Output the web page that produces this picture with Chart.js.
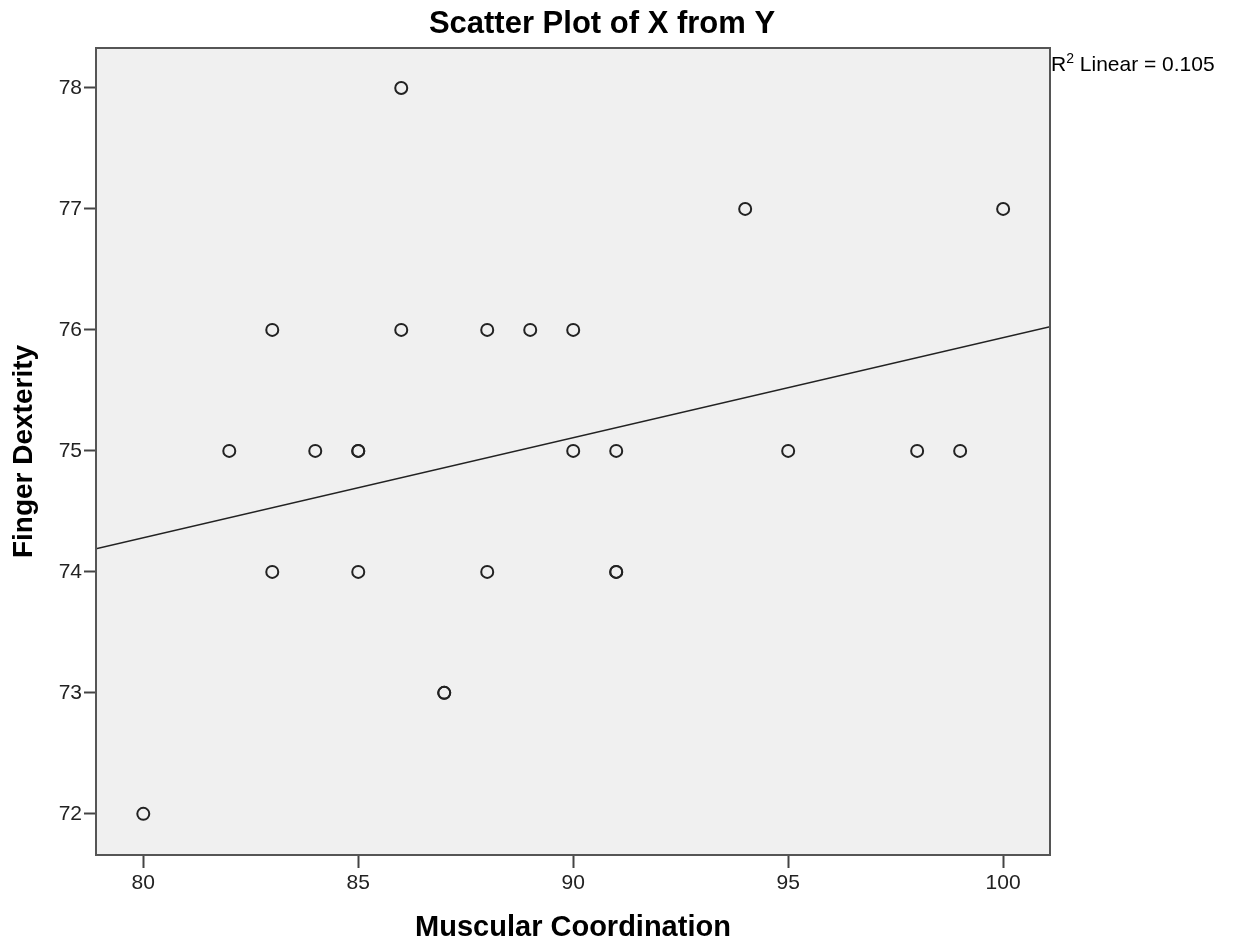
<!DOCTYPE html>
<html>
<head>
<meta charset="utf-8">
<script src="https://cdn.jsdelivr.net/npm/chart.js@4"></script>
<style>
  html, body { margin: 0; padding: 0; background: #fff; }
  #wrap { width: 1233px; height: 945px; position: relative; }
</style>
</head>
<body>
<div id="wrap"><canvas id="scatter"></canvas></div>
<script>
// Muscular Coordination (x) vs Finger Dexterity (y)
const muscular = [86, 94, 100, 83, 86, 88, 89, 90, 82, 84, 85, 85, 90, 91, 95, 98, 99, 83, 85, 88, 91, 91, 87, 87, 80];
const dexterity = [78, 77, 77, 76, 76, 76, 76, 76, 75, 75, 75, 75, 75, 75, 75, 75, 75, 74, 74, 74, 74, 74, 73, 73, 72];

const xTicks = [80, 85, 90, 95, 100];
const yTicks = [72, 73, 74, 75, 76, 77, 78];
const xRange = [78.9, 101.09];
const yRange = [71.66, 78.33];

const chartTitle = "Scatter Plot of X from Y";
const xTitle = "Muscular Coordination";
const yTitle = "Finger Dexterity";

// least squares fit, for the line and the R² label
let n = muscular.length;
let mx = muscular.reduce((a, b) => a + b, 0) / n;
let my = dexterity.reduce((a, b) => a + b, 0) / n;
let sxx = 0, sxy = 0, syy = 0;
for (let i = 0; i < n; i++) {
    sxx += (muscular[i] - mx) * (muscular[i] - mx);
    sxy += (muscular[i] - mx) * (dexterity[i] - my);
    syy += (dexterity[i] - my) * (dexterity[i] - my);
}
let slope = sxy / sxx;
let intercept = my - slope * mx;
let r2 = (sxy * sxy) / (sxx * syy);

let points = muscular.map((x, i) => ({x: x, y: dexterity[i]}));
let fitLine = xRange.map(x => ({x: x, y: intercept + slope * x}));

const fontFamily = "'Liberation Sans', Arial, sans-serif";

// grey panel behind the points and the box round it
const panelPlugin = {
    id: 'panel',
    beforeDraw(chart) {
        let a = chart.chartArea;
        let ctx = chart.ctx;
        ctx.save();
        ctx.fillStyle = '#f0f0f0';
        ctx.fillRect(a.left, a.top, a.right - a.left, a.bottom - a.top);
        ctx.restore();
    },
    afterDraw(chart) {
        let a = chart.chartArea;
        let ctx = chart.ctx;
        ctx.save();
        ctx.strokeStyle = '#555';
        ctx.lineWidth = 2;
        ctx.strokeRect(a.left, a.top, a.right - a.left, a.bottom - a.top);

        // title
        ctx.fillStyle = '#000';
        ctx.font = "bold 31px " + fontFamily;
        ctx.textAlign = 'center';
        ctx.textBaseline = 'alphabetic';
        ctx.fillText(chartTitle, 602, 33);

        // R² label to the right of the panel
        ctx.textAlign = 'left';
        ctx.font = "21px " + fontFamily;
        let x = a.right + 1;
        ctx.fillText("R", x, 71);
        x += ctx.measureText("R").width;
        ctx.font = "14px " + fontFamily;
        ctx.fillText("2", x, 63);
        x += ctx.measureText("2").width;
        ctx.font = "21px " + fontFamily;
        ctx.fillText(" Linear = " + r2.toFixed(3), x, 71);
        ctx.restore();
    }
};

let config = {
    data: {
        datasets: [{
            type: 'scatter',
            data: points,
            pointStyle: 'circle',
            pointRadius: 6,
            pointHoverRadius: 6,
            pointBorderWidth: 2,
            pointBorderColor: '#222',
            pointBackgroundColor: 'rgba(0,0,0,0)',
            order: 1
        }, {
            type: 'line',
            data: fitLine,
            borderColor: '#222',
            borderWidth: 1.5,
            pointRadius: 0,
            fill: false,
            order: 2
        }]
    },
    options: {
        responsive: true,
        maintainAspectRatio: false,
        animation: false,
        layout: { padding: { top: 48, right: 183, left: 0, bottom: 0 } },
        plugins: {
            legend: { display: false },
            tooltip: { enabled: false },
            title: { display: false }
        },
        scales: {
            x: {
                type: 'linear',
                min: xRange[0],
                max: xRange[1],
                afterBuildTicks: scale => { scale.ticks = xTicks.map(v => ({value: v})); },
                afterFit: scale => { scale.height = 90; },
                ticks: {
                    color: '#222',
                    font: { family: fontFamily, size: 21 },
                    padding: 3,
                    maxRotation: 0
                },
                grid: {
                    drawOnChartArea: false,
                    drawTicks: true,
                    tickLength: 13,
                    tickWidth: 2,
                    tickColor: '#444'
                },
                border: { display: false },
                title: {
                    display: true,
                    text: xTitle,
                    color: '#000',
                    font: { family: fontFamily, size: 29, weight: 'bold', lineHeight: 1.2 },
                    padding: { top: 0, bottom: 0 }
                }
            },
            y: {
                type: 'linear',
                min: yRange[0],
                max: yRange[1],
                afterBuildTicks: scale => { scale.ticks = yTicks.map(v => ({value: v})); },
                afterFit: scale => { scale.width = 96; },
                ticks: {
                    color: '#222',
                    font: { family: fontFamily, size: 21 },
                    padding: 2
                },
                grid: {
                    drawOnChartArea: false,
                    drawTicks: true,
                    tickLength: 12,
                    tickWidth: 2,
                    tickColor: '#444'
                },
                border: { display: false },
                title: {
                    display: true,
                    text: yTitle,
                    color: '#000',
                    font: { family: fontFamily, size: 28, weight: 'bold', lineHeight: 1.2 },
                    padding: { top: 7, bottom: 0 }
                }
            }
        }
    },
    plugins: [panelPlugin]
};

let scatter_chart = new Chart(document.getElementById("scatter"), config);
</script>
</body>
</html>
